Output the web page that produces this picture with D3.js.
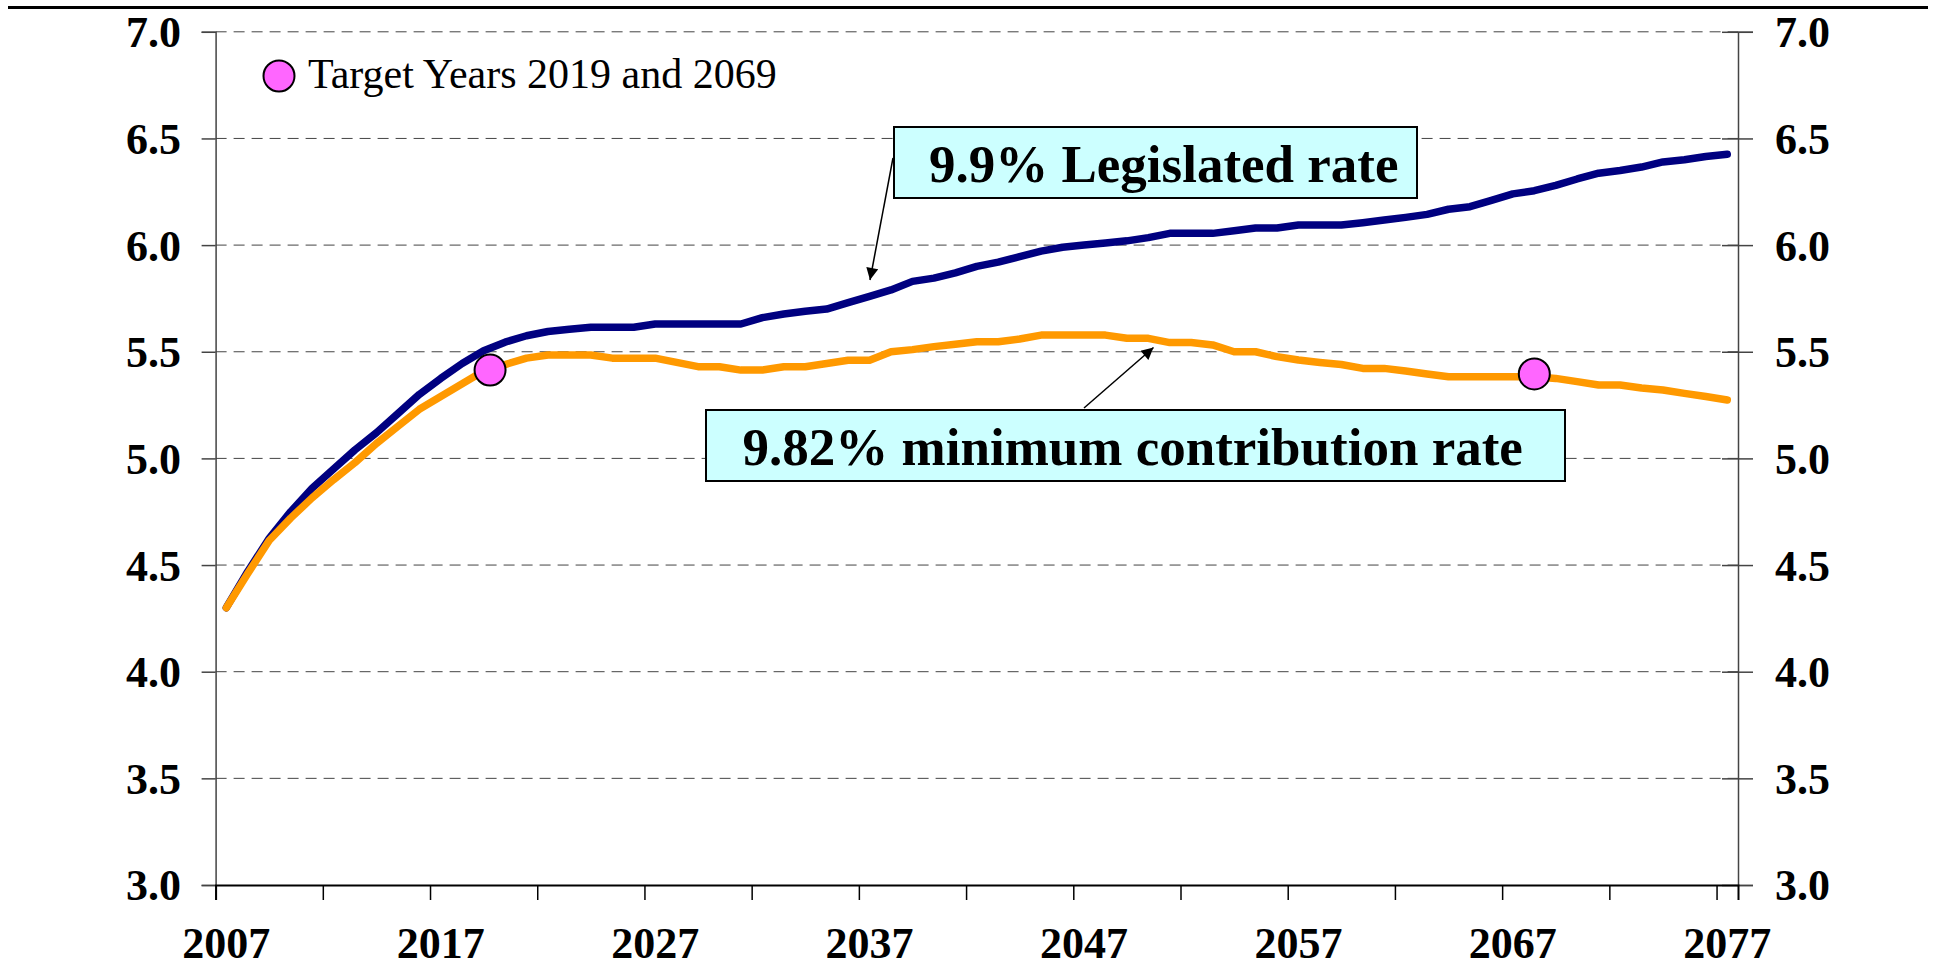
<!DOCTYPE html>
<html>
<head>
<meta charset="utf-8">
<script src="https://cdn.jsdelivr.net/npm/d3@7"></script>
<style>
  body { margin: 0; background: #fff; }
  svg { display: block; }
  text { font-family: "Liberation Serif", "Times New Roman", serif; }
</style>
</head>
<body>
<svg id="chart" width="1933" height="969"></svg>
<script>
// categories
const years = d3.range(2007, 2078);
const xLabelYears = [2007, 2017, 2027, 2037, 2047, 2057, 2067, 2077];
const yTicks = [3.0, 3.5, 4.0, 4.5, 5.0, 5.5, 6.0, 6.5, 7.0];

// 9.9% legislated rate
const legislated = [
  4.30, 4.47, 4.625, 4.75, 4.86, 4.95, 5.04, 5.12, 5.21, 5.30,
  5.375, 5.445, 5.505, 5.545, 5.575, 5.595, 5.605, 5.615, 5.615, 5.615,
  5.63, 5.63, 5.63, 5.63, 5.63, 5.66, 5.677, 5.69, 5.70, 5.73,
  5.76, 5.79, 5.83, 5.845, 5.87, 5.90, 5.92, 5.946, 5.972, 5.99,
  6.00, 6.01, 6.02, 6.035, 6.055, 6.055, 6.055, 6.067, 6.08, 6.08,
  6.094, 6.094, 6.094, 6.105, 6.118, 6.13, 6.144, 6.168, 6.18, 6.21,
  6.24, 6.255, 6.28, 6.31, 6.337, 6.35, 6.366, 6.39, 6.40, 6.415,
  6.426
];

// 9.82% minimum contribution rate
const minimum = [
  4.30, 4.46, 4.615, 4.72, 4.815, 4.90, 4.98, 5.07, 5.15, 5.23,
  5.29, 5.35, 5.41, 5.44, 5.47, 5.485, 5.485, 5.485, 5.47, 5.47,
  5.47, 5.45, 5.43, 5.43, 5.414, 5.414, 5.43, 5.43, 5.445, 5.46,
  5.46, 5.50, 5.51, 5.524, 5.535, 5.547, 5.547, 5.56, 5.578, 5.578,
  5.578, 5.578, 5.563, 5.563, 5.543, 5.543, 5.532, 5.50, 5.50, 5.477,
  5.461, 5.45, 5.44, 5.422, 5.422, 5.41, 5.396, 5.383, 5.383, 5.383,
  5.383, 5.383, 5.375, 5.36, 5.344, 5.344, 5.33, 5.321, 5.305, 5.29,
  5.274
];

// target year markers (position)
const targetX = [2019.3, 2068.0];
const targetY = [5.414, 5.396];

const svg = d3.select("#chart");

const plotLeft = 215.6, plotRight = 1738, plotTop = 31.8, plotBottom = 885;

const x = d3.scaleLinear().domain([2006.5, 2077.5]).range([plotLeft, plotRight]);
const y = d3.scaleLinear().domain([3, 7]).range([plotBottom, plotTop]);

// top rule
svg.append("line")
  .attr("x1", 8).attr("x2", 1928).attr("y1", 7.5).attr("y2", 7.5)
  .attr("stroke", "#000").attr("stroke-width", 3);

// gridlines
svg.append("g")
  .selectAll("line")
  .data(yTicks.filter(d => d > 3))
  .enter()
  .append("line")
  .attr("x1", plotLeft).attr("x2", plotRight)
  .attr("y1", d => y(d)).attr("y2", d => y(d))
  .attr("stroke", "#444")
  .attr("stroke-width", 1)
  .attr("stroke-dasharray", "11,7");

// left axis
const yLeft = svg.append("g")
  .attr("transform", `translate(${plotLeft},0)`)
  .call(d3.axisLeft(y).tickValues(yTicks).tickSize(14).tickPadding(20.6).tickFormat(d3.format(".1f")));
yLeft.select(".domain").attr("stroke", "#444").attr("stroke-width", 1.5);
yLeft.selectAll(".tick line").attr("stroke", "#444").attr("stroke-width", 1.5);
yLeft.selectAll(".tick text")
  .attr("dy", "0.34em")
  .style("font-size", "44px").style("font-weight", "bold").attr("fill", "#000");

// right axis (ticks cross the axis)
const yRight = svg.append("g")
  .attr("transform", `translate(${plotRight},0)`)
  .call(d3.axisRight(y).tickValues(yTicks).tickSize(15).tickPadding(22).tickFormat(d3.format(".1f")));
yRight.select(".domain").attr("stroke", "#444").attr("stroke-width", 1.5);
yRight.selectAll(".tick line").attr("stroke", "#444").attr("stroke-width", 1.5);
yRight.selectAll(".tick text")
  .attr("dy", "0.34em")
  .style("font-size", "44px").style("font-weight", "bold").attr("fill", "#000");
const yRightIn = svg.append("g")
  .attr("transform", `translate(${plotRight},0)`)
  .call(d3.axisLeft(y).tickValues(yTicks).tickSize(16).tickFormat(""));
yRightIn.select(".domain").remove();
yRightIn.selectAll(".tick line").attr("stroke", "#444").attr("stroke-width", 1.5);

// bottom axis, tick marks between categories every 5 years
const xTickVals = d3.range(0, 71, 5).map(i => 2006.5 + i);
const xAxis = svg.append("g")
  .attr("transform", `translate(0,${plotBottom})`)
  .call(d3.axisBottom(x).tickValues(xTickVals).tickSize(15).tickFormat(""));
xAxis.select(".domain").attr("stroke", "#000").attr("stroke-width", 2);
xAxis.selectAll(".tick line").attr("stroke", "#000").attr("stroke-width", 1.5);

svg.append("g")
  .selectAll("text")
  .data(xLabelYears)
  .enter()
  .append("text")
  .attr("x", d => x(d))
  .attr("y", 958)
  .attr("text-anchor", "middle")
  .style("font-size", "44px")
  .style("font-weight", "bold")
  .text(d => d);

// lines
const line = d3.line()
  .x((d, i) => x(years[i]))
  .y(d => y(d));

svg.append("path")
  .datum(legislated)
  .attr("d", line)
  .attr("fill", "none")
  .attr("stroke", "#000080")
  .attr("stroke-width", 7.5)
  .attr("stroke-linejoin", "round")
  .attr("stroke-linecap", "round");

svg.append("path")
  .datum(minimum)
  .attr("d", line)
  .attr("fill", "none")
  .attr("stroke", "#FF9900")
  .attr("stroke-width", 7.5)
  .attr("stroke-linejoin", "round")
  .attr("stroke-linecap", "round");

// target year markers
svg.append("g")
  .selectAll("circle")
  .data(targetX)
  .enter()
  .append("circle")
  .attr("cx", d => x(d))
  .attr("cy", (d, i) => y(targetY[i]))
  .attr("r", 15.5)
  .attr("fill", "#FF66FF")
  .attr("stroke", "#000")
  .attr("stroke-width", 2);

// legend
svg.append("circle")
  .attr("cx", 279).attr("cy", 76).attr("r", 15.5)
  .attr("fill", "#FF66FF").attr("stroke", "#000").attr("stroke-width", 2);
svg.append("text")
  .attr("x", 308).attr("y", 88)
  .style("font-size", "42px")
  .text("Target Years 2019 and 2069");

// arrowhead
svg.append("defs").append("marker")
  .attr("id", "arrow")
  .attr("viewBox", "0 0 10 10")
  .attr("refX", 10).attr("refY", 5)
  .attr("markerWidth", 14).attr("markerHeight", 12)
  .attr("markerUnits", "userSpaceOnUse")
  .attr("orient", "auto")
  .append("path")
  .attr("d", "M0,0 L10,5 L0,10 z")
  .attr("fill", "#000");

// annotations
const notes = [
  { box: [894, 127, 523, 71], text: "9.9% Legislated rate", tx: 929, ty: 182,
    arrow: [893, 158, 870, 280] },
  { box: [706, 410, 859, 71], text: "9.82% minimum contribution rate", tx: 742.6, ty: 465,
    arrow: [1084, 408, 1153.5, 347.5] }
];

notes.forEach(n => {
  svg.append("line")
    .attr("x1", n.arrow[0]).attr("y1", n.arrow[1])
    .attr("x2", n.arrow[2]).attr("y2", n.arrow[3])
    .attr("stroke", "#000").attr("stroke-width", 1.5)
    .attr("marker-end", "url(#arrow)");
  svg.append("rect")
    .attr("x", n.box[0]).attr("y", n.box[1])
    .attr("width", n.box[2]).attr("height", n.box[3])
    .attr("fill", "#CCFFFF")
    .attr("stroke", "#000")
    .attr("stroke-width", 2);
  svg.append("text")
    .attr("x", n.tx).attr("y", n.ty)
    .style("font-size", "53px")
    .style("font-weight", "bold")
    .text(n.text);
});
</script>
</body>
</html>
